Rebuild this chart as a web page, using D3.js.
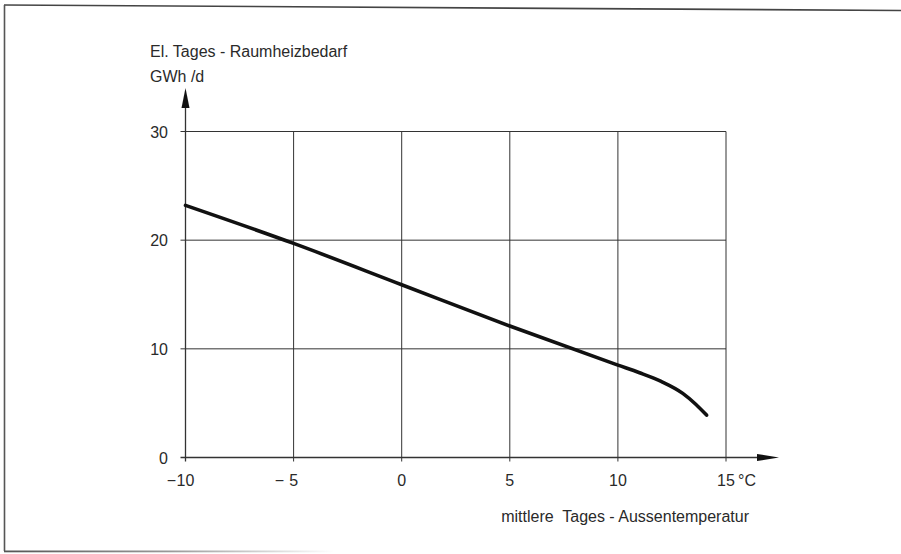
<!DOCTYPE html>
<html><head><meta charset="utf-8">
<script src="https://cdn.jsdelivr.net/npm/d3@7"></script>
<style>
html,body{margin:0;padding:0;background:#fff;}
text{font-family:"Liberation Sans",Arial,sans-serif;fill:#2a2a2a;}
</style></head>
<body><svg id="c" width="901" height="554"></svg>
<script>
const temps  = [-10, -5, 0, 5, 10, 11, 12, 13, 13.6, 14.1];
const demand = [23.2, 19.7, 15.9, 12.1, 8.5, 7.8, 7.0, 5.9, 4.9, 3.9];
const xTicks = [-10, -5, 0, 5, 10, 15];
const xTickSigns = ["\u2212", "\u2212 ", "", "", "", ""];
const xTickLabels = ["10", "5", "0", "5", "10", "15"];
const yTicks = [0, 10, 20, 30];
const yTickLabels = ["0", "10", "20", "30"];
const yTitle1 = "El. Tages - Raumheizbedarf";
const yTitle2 = "GWh /d";
const xTitle = "mittlere  Tages - Aussentemperatur";
const xUnit = "\u00b0C";

const FS = 16;
const svg = d3.select("#c");
const x = d3.scaleLinear().domain([-10, 15]).range([185.5, 726]);
const y = d3.scaleLinear().domain([0, 30]).range([457.5, 131.5]);
const ink = "#333";

// frame
svg.append("line").attr("x1",4).attr("y1",5).attr("x2",901).attr("y2",10.5).attr("stroke","#444").attr("stroke-width",1.6);
svg.append("line").attr("x1",4.5).attr("y1",5).attr("x2",4.5).attr("y2",551).attr("stroke","#555").attr("stroke-width",1.6);
const g0 = svg.append("defs").append("linearGradient").attr("id","fade");
g0.append("stop").attr("offset","0").attr("stop-color","#555");
g0.append("stop").attr("offset","0.5").attr("stop-color","#999");
g0.append("stop").attr("offset","1").attr("stop-color","#fff");
svg.append("rect").attr("x",4).attr("y",550.5).attr("width",330).attr("height",1.8).attr("fill","url(#fade)");

// grid verticals
svg.append("g").selectAll("line").data(xTicks.slice(1)).join("line")
  .attr("x1",d=>x(d)).attr("x2",d=>x(d)).attr("y1",y(30)).attr("y2",y(0)+4)
  .attr("stroke",ink).attr("stroke-width",1);
// grid horizontals
svg.append("g").selectAll("line").data(yTicks.slice(1)).join("line")
  .attr("x1",x(-10)-5).attr("x2",x(15)).attr("y1",d=>y(d)).attr("y2",d=>y(d))
  .attr("stroke",ink).attr("stroke-width",1);

// axes
svg.append("line").attr("x1",x(-10)).attr("x2",x(-10)).attr("y1",y(0)+4).attr("y2",100)
  .attr("stroke",ink).attr("stroke-width",1.3);
svg.append("path").attr("d",`M${x(-10)},88 L${x(-10)-4},108 L${x(-10)+4},108 Z`).attr("fill","#111");
svg.append("line").attr("x1",x(-10)-5).attr("x2",765).attr("y1",y(0)).attr("y2",y(0))
  .attr("stroke",ink).attr("stroke-width",1.3);
svg.append("path").attr("d",`M779,${y(0)} L757,${y(0)-3.5} L757,${y(0)+3.5} Z`).attr("fill","#111");

// tick labels
svg.append("g").selectAll("text").data(yTicks).join("text")
  .attr("x",168).attr("y",d=>y(d)+6).attr("text-anchor","end")
  .attr("font-size",FS).text((d,i)=>yTickLabels[i]);
const xl = svg.append("g").selectAll("text").data(xTicks).join("text")
  .attr("x",d=>x(d)).attr("y",486).attr("text-anchor","middle")
  .attr("font-size",FS).text((d,i)=>xTickLabels[i]);
// signs placed to the left of the centered digits
xl.each(function(d,i){
  if(!xTickSigns[i]) return;
  const w = this.getComputedTextLength();
  svg.append("text").attr("x",x(d)-w/2-0.5).attr("y",486).attr("text-anchor","end")
    .attr("font-size",FS).attr("xml:space","preserve").style("white-space","pre").text(xTickSigns[i]);
});
svg.append("text").attr("x",x(15)+12).attr("y",486).attr("font-size",FS).text(xUnit);

// titles
svg.append("text").attr("x",150).attr("y",57).attr("font-size",FS).text(yTitle1);
svg.append("text").attr("x",150).attr("y",82).attr("font-size",FS).text(yTitle2);
svg.append("text").attr("x",749).attr("y",522).attr("text-anchor","end").attr("font-size",FS)
  .attr("xml:space","preserve").style("white-space","pre").text(xTitle);

// curve
const pts = temps.map((t,i)=>[t, demand[i]]);
svg.append("path").datum(pts)
  .attr("d", d3.line().x(d=>x(d[0])).y(d=>y(d[1])).curve(d3.curveMonotoneX))
  .attr("fill","none").attr("stroke","#111").attr("stroke-width",3.6).attr("stroke-linecap","round");
</script></body></html>
